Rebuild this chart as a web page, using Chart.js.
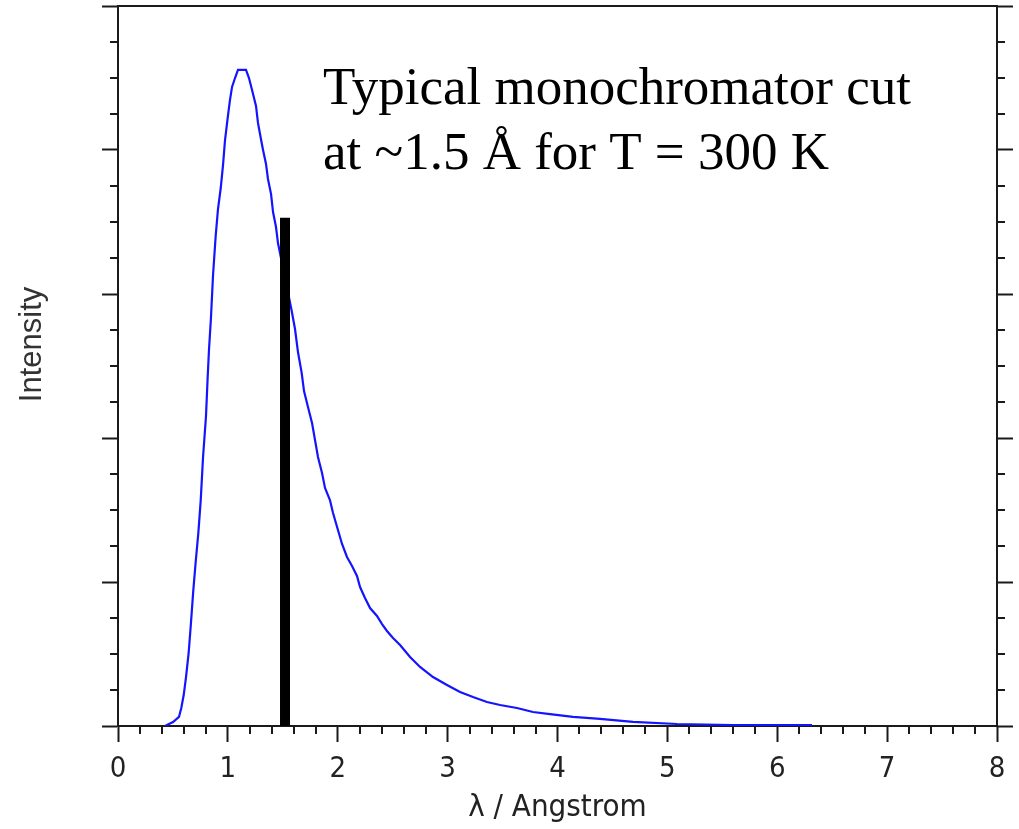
<!DOCTYPE html>
<html>
<head>
<meta charset="utf-8">
<script src="https://cdn.jsdelivr.net/npm/chart.js@4.4.1/dist/chart.umd.min.js"></script>
<style>
  html, body { margin: 0; padding: 0; background: #ffffff; }
  #wrap { width: 1019px; height: 829px; position: relative; }
</style>
</head>
<body>
<div id="wrap"><canvas id="c" width="1019" height="829"></canvas></div>
<script>
// ---- Data ----
const wavelength = [0.428, 0.464, 0.501, 0.555, 0.576, 0.598, 0.619, 0.643, 0.664, 0.685, 0.707, 0.731, 0.753, 0.774, 0.801, 0.815, 0.828, 0.846, 0.865, 0.889, 0.910, 0.935, 0.956, 0.974, 0.998, 1.019, 1.038, 1.065, 1.092, 1.129, 1.165, 1.192, 1.220, 1.256, 1.274, 1.301, 1.320, 1.347, 1.365, 1.393, 1.411, 1.438, 1.456, 1.581, 1.611, 1.638, 1.672, 1.693, 1.729, 1.766, 1.793, 1.820, 1.857, 1.884, 1.929, 1.957, 2.002, 2.039, 2.084, 2.130, 2.175, 2.203, 2.248, 2.294, 2.357, 2.403, 2.448, 2.503, 2.567, 2.658, 2.749, 2.867, 2.994, 3.113, 3.231, 3.358, 3.477, 3.631, 3.777, 3.932, 4.141, 4.387, 4.687, 5.088, 5.597, 6.316];
const intensity = [0.000, 0.014, 0.028, 0.063, 0.125, 0.215, 0.340, 0.507, 0.715, 0.938, 1.139, 1.340, 1.569, 1.868, 2.153, 2.403, 2.611, 2.833, 3.132, 3.403, 3.590, 3.736, 3.896, 4.069, 4.222, 4.347, 4.438, 4.500, 4.556, 4.556, 4.556, 4.500, 4.417, 4.306, 4.188, 4.076, 4.000, 3.903, 3.799, 3.694, 3.569, 3.465, 3.354, 2.882, 2.757, 2.597, 2.451, 2.326, 2.215, 2.104, 1.986, 1.868, 1.757, 1.653, 1.569, 1.479, 1.361, 1.264, 1.174, 1.111, 1.042, 0.965, 0.889, 0.819, 0.764, 0.708, 0.660, 0.611, 0.563, 0.479, 0.410, 0.340, 0.285, 0.236, 0.201, 0.167, 0.146, 0.125, 0.097, 0.083, 0.063, 0.049, 0.028, 0.014, 0.007, 0.007];
const cutWavelength = [1.52, 1.52];
const cutIntensity = [0, 3.53];
const xTickValues = [0, 1, 2, 3, 4, 5, 6, 7, 8];
const xTitle = 'λ / Angstrom';
const yTitle = 'Intensity';
const noteLines = ['Typical monochromator cut', 'at ~1.5 Å for T = 300 K'];

const curvePoints = wavelength.map((x, i) => ({ x: x, y: intensity[i] }));
const cutPoints = cutWavelength.map((x, i) => ({ x: x, y: cutIntensity[i] }));

const AXIS = '#1a1a1a';
const narrow = "'Liberation Sans Narrow', 'DejaVu Sans Condensed', 'Liberation Sans', Arial, sans-serif";

// minor tick marks drawn from the scales' own value->pixel mapping
const minorTicks = {
  id: 'minorTicks',
  afterDraw(chart) {
    const ctx = chart.ctx;
    const xs = chart.scales.x, ys = chart.scales.y;
    const a = chart.chartArea;
    ctx.save();
    ctx.strokeStyle = AXIS;
    ctx.lineWidth = 2;
    ctx.beginPath();
    for (let i = 0; i <= 40; i++) {
      if (i % 5 === 0) continue;
      const px = Math.round(xs.getPixelForValue(i * 0.2));
      ctx.moveTo(px, a.bottom); ctx.lineTo(px, a.bottom + 8);
    }
    for (let i = 0; i <= 20; i++) {
      if (i % 4 === 0) continue;
      const py = Math.round(ys.getPixelForValue(i * 0.25));
      ctx.moveTo(a.left, py); ctx.lineTo(a.left - 8, py);
      ctx.moveTo(a.right, py); ctx.lineTo(a.right + 8, py);
    }
    ctx.stroke();
    ctx.restore();
  }
};

const note = {
  id: 'note',
  afterDatasetsDraw(chart) {
    const ctx = chart.ctx;
    ctx.save();
    ctx.fillStyle = '#000';
    ctx.font = "53px 'Liberation Serif', 'Times New Roman', serif";
    ctx.textBaseline = 'alphabetic';
    ctx.textAlign = 'left';
    ctx.fillText(noteLines[0], 323, 104);
    ctx.fillText(noteLines[1], 323, 169);
    ctx.restore();
  }
};

new Chart(document.getElementById('c'), {
  type: 'line',
  data: {
    datasets: [
      {
        label: 'cut',
        data: cutPoints,
        borderColor: '#000000',
        backgroundColor: '#000000',
        borderWidth: 10,
        borderCapStyle: 'butt',
        pointRadius: 0,
        order: 0
      },
      {
        label: 'spectrum',
        data: curvePoints,
        borderColor: 'rgb(20,20,255)',
        borderWidth: 2.2,
        pointRadius: 0,
        tension: 0,
        fill: false,
        order: 1
      }
    ]
  },
  options: {
    responsive: false,
    animation: false,
    events: [],
    layout: { padding: 0 },
    plugins: { legend: { display: false }, tooltip: { enabled: false }, title: { display: false } },
    scales: {
      x: {
        type: 'linear',
        position: 'bottom',
        min: 0, max: 8,
        afterBuildTicks(s) { s.ticks = xTickValues.map(v => ({ value: v })); },
        afterFit(s) { s.height = 103; },
        grid: { drawOnChartArea: false, drawTicks: true, tickLength: 16, tickWidth: 2, tickColor: AXIS },
        border: { display: true, color: AXIS, width: 2 },
        ticks: { color: '#222', padding: 10, maxRotation: 0, font: { family: narrow, size: 29 } },
        title: { display: true, text: xTitle, color: '#222', font: { family: narrow, size: 31 }, padding: { top: 0, bottom: 2 } }
      },
      xTop: {
        type: 'linear',
        position: 'top',
        min: 0, max: 8,
        afterFit(s) { s.height = 6; },
        grid: { drawOnChartArea: false, drawTicks: false },
        border: { display: true, color: AXIS, width: 2 },
        ticks: { display: false }
      },
      y: {
        type: 'linear',
        position: 'left',
        min: 0, max: 5,
        afterBuildTicks(s) { s.ticks = [0, 1, 2, 3, 4, 5].map(v => ({ value: v })); },
        afterFit(s) { s.width = 118; },
        grid: { drawOnChartArea: false, drawTicks: true, tickLength: 16, tickWidth: 2, tickColor: AXIS },
        border: { display: true, color: AXIS, width: 2 },
        ticks: { display: false },
        title: { display: true, text: '     ' + yTitle, color: '#333', font: { family: "'Liberation Sans', Arial, sans-serif", size: 31 }, padding: { top: 14, bottom: 0 } }
      },
      yRight: {
        type: 'linear',
        position: 'right',
        min: 0, max: 5,
        afterBuildTicks(s) { s.ticks = [0, 1, 2, 3, 4, 5].map(v => ({ value: v })); },
        afterFit(s) { s.width = 22; },
        grid: { drawOnChartArea: false, drawTicks: true, tickLength: 16, tickWidth: 2, tickColor: AXIS },
        border: { display: true, color: AXIS, width: 2 },
        ticks: { display: false }
      }
    }
  },
  plugins: [minorTicks, note]
});
</script>
</body>
</html>
